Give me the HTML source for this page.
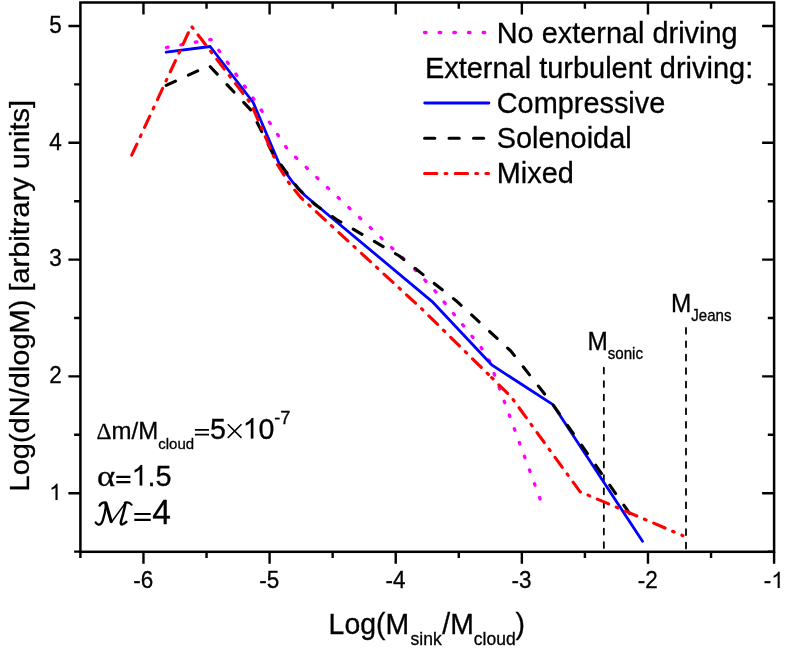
<!DOCTYPE html>
<html><head><meta charset="utf-8"><title>chart</title>
<style>
html,body{margin:0;padding:0;background:#fff;}
svg{display:block;will-change:transform;}
text{font-family:"Liberation Sans",sans-serif;fill:#000;stroke:#000;stroke-width:0.3px;}
</style></head>
<body>
<svg width="789" height="650" viewBox="0 0 789 650">
<rect width="789" height="650" fill="#fff"/>
<rect x="80.4" y="2.5" width="693.7" height="549.3" fill="none" stroke="#000" stroke-width="2.5"/>
<path d="M80.40 551.8 v6.3 M143.46 551.8 v12.0 M143.46 2.5 v12.0 M206.53 551.8 v6.3 M206.53 2.5 v6.3 M269.59 551.8 v12.0 M269.59 2.5 v12.0 M332.65 551.8 v6.3 M332.65 2.5 v6.3 M395.72 551.8 v12.0 M395.72 2.5 v12.0 M458.78 551.8 v6.3 M458.78 2.5 v6.3 M521.85 551.8 v12.0 M521.85 2.5 v12.0 M584.91 551.8 v6.3 M584.91 2.5 v6.3 M647.97 551.8 v12.0 M647.97 2.5 v12.0 M711.04 551.8 v6.3 M711.04 2.5 v6.3 M774.10 551.8 v12.0 M80.4 551.60 h-6.3 M774.1 551.60 h-6.3 M80.4 493.20 h-12.0 M774.1 493.20 h-12.0 M80.4 434.80 h-6.3 M774.1 434.80 h-6.3 M80.4 376.40 h-12.0 M774.1 376.40 h-12.0 M80.4 318.00 h-6.3 M774.1 318.00 h-6.3 M80.4 259.60 h-12.0 M774.1 259.60 h-12.0 M80.4 201.20 h-6.3 M774.1 201.20 h-6.3 M80.4 142.80 h-12.0 M774.1 142.80 h-12.0 M80.4 84.40 h-6.3 M774.1 84.40 h-6.3 M80.4 26.00 h-12.0 M774.1 26.00 h-12.0" fill="none" stroke="#000" stroke-width="2.4"/>
<text transform="translate(143.16,587.90) scale(1.0,1.075)" font-size="22.5" text-anchor="middle">-6</text>
<text transform="translate(269.29,587.90) scale(1.0,1.075)" font-size="22.5" text-anchor="middle">-5</text>
<text transform="translate(395.42,587.90) scale(1.0,1.075)" font-size="22.5" text-anchor="middle">-4</text>
<text transform="translate(521.55,587.90) scale(1.0,1.075)" font-size="22.5" text-anchor="middle">-3</text>
<text transform="translate(647.67,587.90) scale(1.0,1.075)" font-size="22.5" text-anchor="middle">-2</text>
<text transform="translate(763.80,587.90) scale(1.0,1.075)" font-size="22.5">-</text>
<g role="img" aria-label="1"><title>1</title><path transform="translate(771.29,587.90) scale(0.01099,-0.01099)" d="M763 0H583V1147Q518 1085 412.5 1023T223 930V1104Q374 1175 487 1276T647 1472H763Z" fill="#000" stroke="#000" stroke-width="14"/></g>
<g role="img" aria-label="1"><title>1</title><path transform="translate(49.14,500.00) scale(0.01099,-0.01099)" d="M763 0H583V1147Q518 1085 412.5 1023T223 930V1104Q374 1175 487 1276T647 1472H763Z" fill="#000" stroke="#000" stroke-width="14"/></g>
<text transform="translate(61.65,383.20) scale(1.0,1.075)" font-size="22.5" text-anchor="end">2</text>
<text transform="translate(61.65,266.40) scale(1.0,1.075)" font-size="22.5" text-anchor="end">3</text>
<text transform="translate(61.65,149.60) scale(1.0,1.075)" font-size="22.5" text-anchor="end">4</text>
<text transform="translate(61.65,32.80) scale(1.0,1.075)" font-size="22.5" text-anchor="end">5</text>
<path d="M603.85 367.7 V550.3" fill="none" stroke="#000" stroke-width="1.8" stroke-linecap="round" stroke-dasharray="5.8 7.62"/>
<path d="M686 327.9 V550.3" fill="none" stroke="#000" stroke-width="1.8" stroke-linecap="round" stroke-dasharray="5.8 7.62"/>
<path d="M166.5 47.5 L210.9 39.4 L253.2 98.1 L288.0 150.0 L328.0 188.1 L411.7 266.4" fill="none" stroke="#ff00ff" stroke-width="3.3" stroke-dasharray="1.6 13.05" stroke-linecap="round" stroke-linejoin="round"/>
<path d="M414.0 268.6 L434.7 290.5 L481.0 347.3 L489.5 361.1 L540.1 499.0" fill="none" stroke="#ff00ff" stroke-width="3.3" stroke-dasharray="1.6 13.05" stroke-linecap="round" stroke-dashoffset="13.49" stroke-linejoin="round"/>
<path d="M166.2 52.2 L210.2 46.5 L253.2 102.5 L278.9 163.0 L292.7 182.3 L305.0 195.5 L431.9 301.3 L492.1 365.2 L553.0 404.7 L642.5 541.3" fill="none" stroke="#0000ff" stroke-width="2.8" stroke-linecap="round" stroke-linejoin="round"/>
<path d="M166.2 85.4 L209.2 65.6 L250.8 110.0 L273.5 154.9 L285.6 171.1 L298.8 189.4 L315.0 204.6 L336.5 219.5 L399.4 256.0 L456.1 300.7 L510.8 351.0 L553.0 404.7 L630.1 514.1" fill="none" stroke="#000" stroke-width="3.1" stroke-dasharray="10.2 14.25" stroke-linecap="round" stroke-linejoin="round"/>
<path d="M131.7 155.2 L191.4 26.2 L251.3 104.3 L277.2 164.3 L289.5 183.8 L300.8 197.5 L421.7 308.8 L489.0 375.0" fill="none" stroke="#ff0000" stroke-width="3.1" stroke-dasharray="12.3 8.2 1.8 8.35" stroke-linecap="round" stroke-linejoin="round"/>
<path d="M489.0 375.0 L511.4 397.2 L580.0 491.7 L683.0 535.7" fill="none" stroke="#ff0000" stroke-width="3.1" stroke-dasharray="12.3 8.2 1.8 8.35" stroke-linecap="round" stroke-dashoffset="16.73" stroke-linejoin="round"/>
<path d="M424.5 32.5 H488.5" fill="none" stroke="#ff00ff" stroke-width="3.3" stroke-dasharray="1.6 13.05" stroke-linecap="round"/>
<path d="M424.7 103 H488.9" fill="none" stroke="#0000ff" stroke-width="2.8" stroke-linecap="round"/>
<path d="M424.6 138.3 H488.5" fill="none" stroke="#000" stroke-width="3.1" stroke-dasharray="10.2 14.25" stroke-linecap="round"/>
<path d="M424.6 173.5 H488.5" fill="none" stroke="#ff0000" stroke-width="3.1" stroke-dasharray="12.3 8.2 1.8 8.35" stroke-linecap="round"/>
<text transform="translate(496.70,42.70) scale(1.0,1.045)" font-size="28.9">No external driving</text>
<text transform="translate(424.90,77.80) scale(1.0,1.045)" font-size="28.97">External turbulent driving:</text>
<text transform="translate(496.70,113.10) scale(1.0,1.045)" font-size="28.9">Compressive</text>
<text transform="translate(496.70,148.00) scale(1.0,1.045)" font-size="28.9">Solenoidal</text>
<text transform="translate(496.70,183.20) scale(1.0,1.045)" font-size="28.9">Mixed</text>
<text transform="translate(587.40,349.50) scale(1.0,1.055)" font-size="24.4">M<tspan font-size="15.1" dy="9.2">sonic</tspan></text>
<text transform="translate(670.90,311.50) scale(1.0,1.055)" font-size="24.4">M<tspan font-size="15.1" dy="9.2">Jeans</tspan></text>
<text transform="translate(96.60,438.50) scale(1.0,0.99)" font-size="24.0"><tspan font-size="23.3" style="font-family:'Liberation Serif',serif">Δ</tspan>m/M<tspan font-size="15" dy="10.5">cloud</tspan></text>
<g role="img" aria-label="="><title>=</title><path d="M194.9 429.9 H209 M194.9 434.7 H209" fill="none" stroke="#000" stroke-width="1.8"/></g>
<text transform="translate(210.05,438.50) scale(1.0,1.03)" font-size="28.6">5</text>
<g role="img" aria-label="×"><title>×</title><path d="M227.8 424.3 L241.5 437.9 M241.5 424.3 L227.8 437.9" fill="none" stroke="#000" stroke-width="1.5"/></g>
<g role="img" aria-label="1"><title>1</title><path transform="translate(242.70,438.50) scale(0.01396,-0.01396)" d="M763 0H583V1147Q518 1085 412.5 1023T223 930V1104Q374 1175 487 1276T647 1472H763Z" fill="#000" stroke="#000" stroke-width="11"/></g>
<text transform="translate(258.60,438.50) scale(1.0,1.03)" font-size="28.6">0</text>
<text transform="translate(274.20,424.00) scale(1.0,1.0)" font-size="18.2">-7</text>
<text transform="translate(97.00,485.50) scale(1.19,1.03)" font-size="29" style="font-family:'Liberation Serif',serif">α</text>
<g role="img" aria-label="="><title>=</title><path d="M116.3 476.9 H130.4 M116.3 482.2 H130.4" fill="none" stroke="#000" stroke-width="2.2"/></g>
<g role="img" aria-label="1"><title>1</title><path transform="translate(131.50,485.60) scale(0.01406,-0.01406)" d="M763 0H583V1147Q518 1085 412.5 1023T223 930V1104Q374 1175 487 1276T647 1472H763Z" fill="#000" stroke="#000" stroke-width="11"/></g>
<text transform="translate(147.52,485.50) scale(1.0,1.04)" font-size="28.8">.5</text>
<g id="scriptM" role="img" aria-label="ℳ" fill="none" stroke="#000" stroke-linecap="round" stroke-linejoin="round"><title>ℳ</title><path stroke-width="2.3" d="M99.6 505.6 C101 503 103.8 501.9 105.4 502.5 C106.4 506.5 104.8 514 102.8 520.3 C101.4 524.3 99.8 525 98 524.4 C96.9 524 96.1 523.2 95.7 522.5"/><path stroke-width="3.1" d="M105.9 503.2 L111.2 521.6"/><path stroke-width="1.5" d="M111.4 522.3 L125.4 503"/><path stroke-width="2.5" d="M125.5 502.8 C124.5 509 122.3 517 121 521.2 C120.5 523.4 121 524.6 122.3 524.4 C123.6 524.1 125.2 523 126.3 521.9"/><path stroke-width="2.0" d="M124.8 502.9 C127 502 129.8 502.4 131.7 504.8"/></g>
<g role="img" aria-label="="><title>=</title><path d="M134.3 514 H150.7 M134.3 519.8 H150.7" fill="none" stroke="#000" stroke-width="2.2"/></g>
<text transform="translate(152.20,524.00) scale(1.0,1.053)" font-size="33.5">4</text>
<text transform="translate(328.60,633.80) scale(1.0,1.06)" font-size="28.4">Log(M<tspan font-size="17.5" dx="1.5" dy="10.7">sink</tspan><tspan dx="0.6" dy="-10.7">/M</tspan><tspan font-size="17.5" dy="10.7">cloud</tspan><tspan dy="-10.7">)</tspan></text>
<text transform="translate(28.8,491.4) rotate(-90) scale(1,0.967)" font-size="29">Log(dN/dlogM) [arbitrary units]</text>
</svg>
</body></html>
